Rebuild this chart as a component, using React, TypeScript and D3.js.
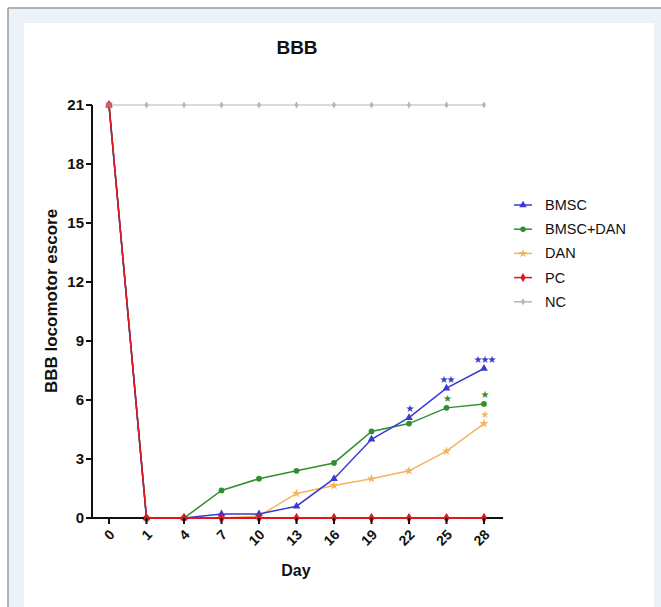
import React from "react";
import * as d3 from "d3";

const days = ["0", "1", "4", "7", "10", "13", "16", "19", "22", "25", "28"];
const yTicks = [0, 3, 6, 9, 12, 15, 18, 21];

const bmsc = [21, 0, 0, 0.2, 0.2, 0.6, 2.0, 4.0, 5.1, 6.6, 7.6];
const bmscDan = [21, 0, 0, 1.4, 2.0, 2.4, 2.8, 4.4, 4.8, 5.6, 5.8];
const dan = [21, 0, 0, 0, 0.1, 1.25, 1.65, 2.0, 2.4, 3.4, 4.8];
const pc = [21, 0, 0, 0, 0, 0, 0, 0, 0, 0, 0];
const nc = [21, 21, 21, 21, 21, 21, 21, 21, 21, 21, 21];

const seriesNames = ["BMSC", "BMSC+DAN", "DAN", "PC", "NC"];
const seriesColors = ["#3a3ad0", "#2f8f2f", "#f4b45e", "#e3151c", "#b5b5b5"];
const seriesValues = [bmsc, bmscDan, dan, pc, nc];
const seriesSymbols = [d3.symbolTriangle, d3.symbolCircle, d3.symbolStar, d3.symbolDiamond, d3.symbolDiamond];

// significance annotations: series index, day, label
const sigSeries = [0, 0, 0, 1, 1, 2];
const sigDays = ["22", "25", "28", "25", "28", "28"];
const sigLabels = ["★", "★★", "★★★", "★", "★", "★"];

const FONT = "'Liberation Sans', Arial, Helvetica, sans-serif";

export default function App() {
  const x = d3.scalePoint<string>().domain(days).range([109, 484]);
  const y = d3.scaleLinear().domain([0, 21]).range([518, 105]);
  const line = d3
    .line<number>()
    .x((_, i) => x(days[i]) as number)
    .y((d) => y(d));

  const drawOrder = [4, 2, 1, 0, 3];
  const axisX0 = 92;
  const axisX1 = 503;

  return (
    <svg
      width={661}
      height={607}
      style={{ position: "absolute", left: 0, top: 0 }}
      fontFamily={FONT}
    >
      <rect x={0} y={0} width={661} height={607} fill="#ffffff" />
      <rect x={8} y={8} width={653} height={599} fill="#edf1f8" />
      <line x1={8} y1={8} x2={661} y2={8} stroke="#9a9a9a" strokeWidth={1.5} />
      <line x1={8} y1={8} x2={8} y2={607} stroke="#9a9a9a" strokeWidth={1.5} />
      <rect x={24} y={23} width={630} height={584} fill="#ffffff" />

      <text x={297} y={54} textAnchor="middle" fontWeight="bold" fontSize={19} fill="#111">
        BBB
      </text>

      {/* series */}
      {drawOrder.map((si) => (
        <g key={si}>
          <path
            d={line(seriesValues[si]) as string}
            fill="none"
            stroke={seriesColors[si]}
            strokeWidth={si === 4 ? 1.2 : 1.5}
          />
          {seriesValues[si].map((v, i) => (
            <path
              key={i}
              transform={`translate(${x(days[i])},${y(v)})`}
              d={d3.symbol().type(seriesSymbols[si]).size(si === 4 ? 14 : 26)() as string}
              fill={seriesColors[si]}
            />
          ))}
        </g>
      ))}

      {/* axes */}
      <line x1={axisX0} y1={y(21)} x2={axisX0} y2={y(0) + 1} stroke="#111" strokeWidth={2} />
      <line x1={axisX0 - 1} y1={y(0)} x2={axisX1} y2={y(0)} stroke="#111" strokeWidth={2} />
      {/* re-draw PC along the axis so red sits on top */}
      <path
        d={d3.line<number>().x((_, i) => x(days[i + 1]) as number).y((d) => y(d))(pc.slice(1)) as string}
        fill="none"
        stroke={seriesColors[3]}
        strokeWidth={1.8}
      />
      {pc.map((v, i) => (
        <path
          key={i}
          transform={`translate(${x(days[i])},${y(v)})`}
          d={
            (i === 0
              ? d3.symbol().type(d3.symbolSquare).size(28)()
              : d3.symbol().type(d3.symbolDiamond).size(30)()) as string
          }
          fill={i === 0 ? "#d9606a" : seriesColors[3]}
        />
      ))}

      {yTicks.map((t) => (
        <g key={t}>
          <line x1={axisX0 - 6} y1={y(t)} x2={axisX0} y2={y(t)} stroke="#111" strokeWidth={2} />
          <text
            x={axisX0 - 8}
            y={y(t)}
            dy="0.35em"
            textAnchor="end"
            fontWeight="bold"
            fontSize={15}
            fill="#111"
          >
            {t}
          </text>
        </g>
      ))}
      {days.map((d) => (
        <g key={d}>
          <line x1={x(d)} y1={y(0)} x2={x(d)} y2={y(0) + 6} stroke="#111" strokeWidth={2} />
          <text
            transform={`translate(${(x(d) as number) + 3},${532}) rotate(-45)`}
            textAnchor="end"
            dy="0.35em"
            fontWeight="bold"
            fontSize={14}
            fill="#111"
          >
            {d}
          </text>
        </g>
      ))}

      <text
        transform={`translate(51,${301}) rotate(-90)`}
        textAnchor="middle"
        dy="0.35em"
        fontWeight="bold"
        fontSize={17}
        fill="#111"
      >
        BBB locomotor escore
      </text>
      <text x={296} y={576} textAnchor="middle" fontWeight="bold" fontSize={16} fill="#111">
        Day
      </text>

      {/* significance stars */}
      {sigSeries.map((si, k) => (
        <text
          key={k}
          x={x(sigDays[k])}
          y={y(seriesValues[si][days.indexOf(sigDays[k])]) - 9}
          dy="0.35em"
          textAnchor="middle"
          fontSize={10}
          letterSpacing={-2}
          fill={seriesColors[si]}
          fontFamily="'DejaVu Sans', sans-serif"
        >
          {sigLabels[k]}
        </text>
      ))}

      {/* legend */}
      {seriesNames.map((n, i) => {
        const ly = 205 + i * 24.2;
        return (
          <g key={n}>
            <line x1={514} y1={ly} x2={532} y2={ly} stroke={seriesColors[i]} strokeWidth={1.5} />
            <path
              transform={`translate(523,${ly})`}
              d={d3.symbol().type(seriesSymbols[i]).size(i === 4 ? 14 : 24)() as string}
              fill={seriesColors[i]}
            />
            <text x={545} y={ly} dy="0.35em" fontSize={14.5} fill="#111">
              {n}
            </text>
          </g>
        );
      })}
    </svg>
  );
}
